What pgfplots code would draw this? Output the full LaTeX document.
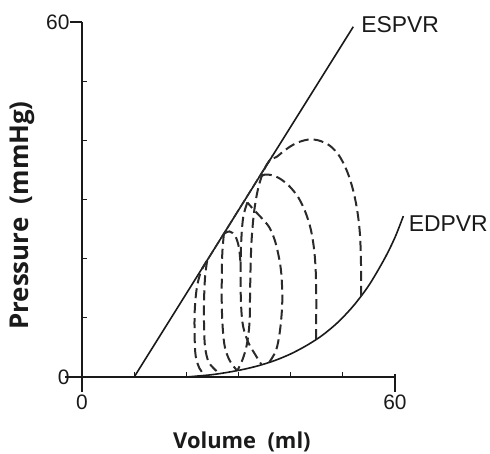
\documentclass[border=0pt]{standalone}
\usepackage{fontspec}
\setmainfont{Liberation Sans}
\newfontfamily\labfont{Open Sans}
\usepackage{pgfplots}
\pgfplotsset{compat=1.18}
\definecolor{ink}{HTML}{1A1A1A}
\definecolor{dashcol}{HTML}{2A2A2A}
\begin{document}
\begin{tikzpicture}
\useasboundingbox (-82bp,-77bp) rectangle (408bp,377bp);
\begin{axis}[
  scale only axis, width=313bp, height=355bp,
  xmin=0, xmax=60, ymin=0, ymax=60,
  clip=false,
  axis x line*=bottom, axis y line*=left,
  axis line style={ink, line width=1.7bp},
  xtick={0,60}, ytick={0,60},
  minor xtick={10,20,30,40,50}, minor ytick={10,20,30,40,50},
  tick align=inside, major tick length=0pt, minor tick length=5bp,
  minor tick style={ink, line width=1.3bp},
  /pgf/number format/assume math mode=true,
  ticklabel style={font=\fontsize{21}{25}\selectfont, text=ink},
  yticklabel style={anchor=east, xshift=-9bp},
  xticklabel style={anchor=north, yshift=-14bp},
  xlabel={Volume\ \ (ml)},
  ylabel={Pressure\ \ (mmHg)},
  xlabel style={font=\labfont\bfseries\fontsize{22}{26}\selectfont, text=ink, at={(axis description cs:0.511,-0.183)}, anchor=center},
  ylabel style={font=\labfont\bfseries\fontsize{26}{30}\selectfont, text=ink, at={(axis description cs:-0.190,0.455)}, anchor=center},
]
% outward major ticks
\draw[ink, line width=1.7bp] (axis cs:0,0) -- ++(0,-15bp);
\draw[ink, line width=1.7bp] (axis cs:60,0) ++(0,3bp) -- ++(0,-18bp);
\draw[ink, line width=1.7bp] (axis cs:0,0) -- ++(-17bp,0);
\draw[ink, line width=1.7bp] (axis cs:0,60) -- ++(-12bp,0);

% ESPVR
\addplot[ink, line width=1.6bp] coordinates {(10,0) (52,59.2)};
% EDPVR
\addplot[ink, line width=1.6bp, smooth] coordinates {
(20,0) (22,0.15) (25,0.4) (28,0.8) (31,1.3) (34,1.95) (37,2.8) (40,3.9)
(43,5.3) (46,7.0) (49,9.2) (52,12.0) (55,15.5) (58,20.0) (60,23.6) (61.6,27.2)};

\pgfplotsset{pvloop/.style={dashcol, line width=2bp, dash pattern=on 10bp off 5bp, smooth, tension=0.55}}
% thickening along ESPVR
\addplot[dashcol, line width=1.6bp, dash pattern=on 9bp off 3bp] coordinates {(23,18.3) (36.5,37.4)};
% loop 1
\addplot[pvloop] coordinates {
(53.5,13.7) (53.5,18) (53.4,22) (53.2,25) (52.7,28.5) (51.9,31.8) (50.8,34.8) (49.3,37.4)
(47.5,39.1) (45.3,40.0) (43.2,40.1) (41,39.5) (39,38.4) (37.3,37.2) (36,36.6)
(34.9,35) (33.8,32) (33,28) (32.5,23) (32.3,18) (32.2,13) (32.1,9) (31.6,5.5) (30.8,3) (29.8,1.1)};
% loop 2
\addplot[pvloop] coordinates {
(44.9,6.4) (44.9,10) (44.9,14) (44.8,18) (44.5,21.5) (43.9,24.8) (42.9,27.7) (41.5,30.3)
(39.8,32.2) (38,33.5) (36.5,34.1) (35,34.2) (34,33.8)};
% loop 3
\addplot[pvloop] coordinates {
(35.9,2.5) (37.2,4.5) (37.9,7.5) (38.3,11) (38.4,14) (38.2,17.5) (37.8,20) (37,23)
(35.9,25.3) (34.4,26.9) (33,28.2) (31.7,29.5)};
\addplot[pvloop] coordinates {
(31.7,29.5) (30.9,27) (30.5,22.5) (30.4,17) (30.5,12) (30.9,8.5) (31.9,5.8) (33.2,3.8) (34.4,2.1)};
% loop 4
\addplot[pvloop] coordinates {
(27.2,24.2) (26.9,21) (26.8,17) (26.8,12) (27,8) (27.4,5) (28.3,2.8) (29.6,1.2)};
\addplot[pvloop] coordinates {
(27.2,24.2) (28.3,24.6) (29.4,23.8) (30.1,21.8) (30.4,19)};
% loop 5
\addplot[pvloop] coordinates {
(24,19.7) (22.8,17.8) (22,15) (21.6,11) (21.6,6.5) (21.8,3.5) (22.5,1.5) (23.3,0.5)};
\addplot[pvloop] coordinates {
(24,19.7) (23.6,17) (23.4,13) (23.4,8.5) (23.6,5) (24.3,2.5) (25.8,1.0)};

\node[anchor=west, inner sep=0pt, text=ink, font=\fontsize{23}{27}\selectfont] at (axis cs:53.5,59.5) {ESPVR};
\node[anchor=west, inner sep=0pt, text=ink, font=\fontsize{23}{27}\selectfont] at (axis cs:62.6,26.0) {EDPVR};
\end{axis}
\end{tikzpicture}
\end{document}
